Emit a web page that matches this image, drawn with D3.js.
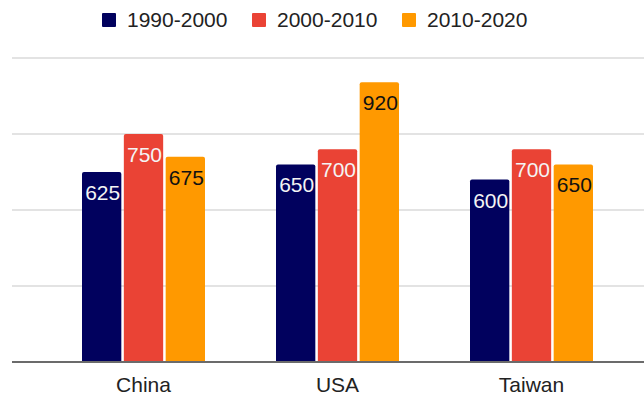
<!DOCTYPE html>
<html>
<head>
<meta charset="utf-8">
<script src="https://cdn.jsdelivr.net/npm/d3@7"></script>
<style>
  html, body { margin: 0; padding: 0; background: #fff; }
  svg { display: block; font-family: "Liberation Sans", Arial, sans-serif; }
</style>
</head>
<body>
<svg id="chart" width="644" height="395"></svg>
<script>
const categories = ["China", "USA", "Taiwan"];
const seriesNames = ["1990-2000", "2000-2010", "2010-2020"];
const values1990 = [625, 650, 600];
const values2000 = [750, 700, 700];
const values2010 = [675, 920, 650];
const yTicks = [0, 250, 500, 750, 1000];

const colors = ["#01015e", "#ea4335", "#ff9900"];
const labelColors = ["#f4f4f4", "#f4f4f4", "#111111"];
const seriesValues = [values1990, values2000, values2010];

const svg = d3.select("#chart");
const plotLeft = 12, plotRight = 644;
const FONT = "'Liberation Sans', Arial, sans-serif";

const y = d3.scaleLinear().domain([0, 1000]).range([362, 58]);
const x = d3.scaleBand().domain(categories).range([46.5, 628.5]).padding(0);
const groupW = 123;
const xs = d3.scaleBand().domain(seriesNames)
  .range([x.bandwidth() / 2 - groupW / 2, x.bandwidth() / 2 + groupW / 2])
  .paddingInner(0.06).paddingOuter(0);

// gridlines
svg.append("g").selectAll("line")
  .data(yTicks.filter(d => d > 0))
  .join("line")
  .attr("x1", plotLeft).attr("x2", plotRight)
  .attr("y1", d => y(d)).attr("y2", d => y(d))
  .attr("stroke", "#e3e3e3").attr("stroke-width", 2);

// bars
const data = [];
categories.forEach((c, i) => {
  seriesNames.forEach((s, j) => {
    data.push({ cat: c, series: s, j: j, value: seriesValues[j][i] });
  });
});

function topRounded(x0, y0, w, h, r) {
  return `M${x0},${y0 + h}V${y0 + r}Q${x0},${y0} ${x0 + r},${y0}H${x0 + w - r}Q${x0 + w},${y0} ${x0 + w},${y0 + r}V${y0 + h}Z`;
}

const bars = svg.append("g");
bars.selectAll("path")
  .data(data)
  .join("path")
  .attr("d", d => {
    const bx = x(d.cat) + xs(d.series);
    const by = y(d.value);
    return topRounded(bx, by, xs.bandwidth(), y(0) - by, 2);
  })
  .attr("fill", d => colors[d.j]);

bars.selectAll("text")
  .data(data)
  .join("text")
  .attr("x", d => x(d.cat) + xs(d.series) + xs.bandwidth() / 2 + 1)
  .attr("y", d => y(d.value) + 28)
  .attr("text-anchor", "middle")
  .attr("font-size", 21)
  .attr("fill", d => labelColors[d.j])
  .text(d => d.value);

// baseline
svg.append("line")
  .attr("x1", plotLeft).attr("x2", plotRight)
  .attr("y1", y(0)).attr("y2", y(0))
  .attr("stroke", "#6b6b6b").attr("stroke-width", 2);

// category axis labels
const xAxis = d3.axisBottom(x).tickSize(0).tickPadding(0);
const gx = svg.append("g").attr("transform", `translate(0,${y(0)})`).call(xAxis);
gx.select(".domain").remove();
gx.selectAll("text")
  .attr("font-size", 21)
  .attr("font-family", FONT)
  .attr("fill", "#222")
  .attr("dy", null)
  .attr("y", 30);

// legend
const legendX = [102, 252, 402];
const legend = svg.append("g");
const li = legend.selectAll("g").data(seriesNames).join("g")
  .attr("transform", (d, i) => `translate(${legendX[i]},0)`);
li.append("rect").attr("x", 0).attr("y", 13).attr("width", 14).attr("height", 14)
  .attr("rx", 1).attr("fill", (d, i) => colors[i]);
li.append("text").attr("x", 25).attr("y", 27).attr("font-size", 21)
  .attr("fill", "#222").text(d => d);
</script>
</body>
</html>
